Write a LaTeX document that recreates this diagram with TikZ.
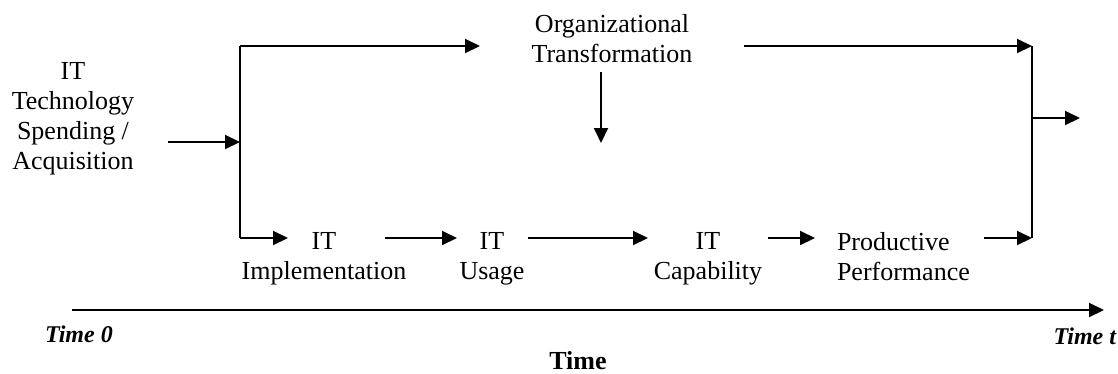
\documentclass[tikz,border=0pt]{standalone}
\usepackage{fontspec}
\setmainfont{Liberation Serif}
\usetikzlibrary{arrows.meta}
\begin{document}
\begin{tikzpicture}[x=1pt,y=-1pt,
  lbl/.style={inner sep=0pt, outer sep=0pt, align=center, anchor=north, font=\fontsize{26}{30}\selectfont},
  timelbl/.style={inner sep=0pt, outer sep=0pt, font=\fontsize{24}{28}\selectfont\bfseries\itshape},
  conn/.style={line width=2pt, -{Triangle[length=15pt,width=14pt]}},
  plain/.style={line width=2pt}]
\useasboundingbox (0,0) rectangle (1118,373);
% text nodes
\node[lbl] (src) at (73,62) {IT\\Technology\\Spending /\\Acquisition};
\node[lbl] (org) at (612,14) {Organizational\\Transformation};
\node[lbl] (impl) at (324,232) {IT\\Implementation};
\node[lbl] (use) at (492,232) {IT\\Usage};
\node[lbl] (cap) at (708,232) {IT\\Capability};
\node[lbl, align=left, anchor=north west] (perf) at (837,232) {Productive\\Performance};
\node[timelbl, anchor=base west] (t0) at (45,342) {Time 0};
\node[timelbl, anchor=base east] (tt) at (1116,344) {Time t};
\node[inner sep=0pt, anchor=base, font=\fontsize{26}{30}\selectfont\bfseries] (time) at (578,369) {Time};
% connector points
\coordinate (inS) at (168,142);
\coordinate (split) at (240,142);
\coordinate (tl) at (240,46);
\coordinate (bl) at (240,238);
\coordinate (topA) at (480,46);
\coordinate (topB) at (744,46);
\coordinate (tr) at (1032,46);
\coordinate (br) at (1032,238);
\coordinate (outS) at (1032,118);
\coordinate (outE) at (1080,118);
\coordinate (dnS) at (601,72);
\coordinate (dnE) at (601,143);
\coordinate (i1) at (288,238);
\coordinate (a2s) at (385,238);
\coordinate (a2e) at (457,238);
\coordinate (a3s) at (528,238);
\coordinate (a3e) at (648,238);
\coordinate (a4s) at (768,238);
\coordinate (a4e) at (815,238);
\coordinate (a5s) at (984,238);
\coordinate (axS) at (72,310);
\coordinate (axE) at (1104,310);
% connectors
\draw[conn] (inS) -- (split);
\draw[plain] (tl) -- (bl);
\draw[conn] (tl) -- (topA);
\draw[conn] (bl) -- (i1);
\draw[conn] (dnS) -- (dnE);
\draw[conn] (topB) -- (tr);
\draw[plain] (tr) -- (br);
\draw[conn] (outS) -- (outE);
\draw[conn] (a2s) -- (a2e);
\draw[conn] (a3s) -- (a3e);
\draw[conn] (a4s) -- (a4e);
\draw[conn] (a5s) -- (br);
\draw[conn] (axS) -- (axE);
\end{tikzpicture}
\end{document}
